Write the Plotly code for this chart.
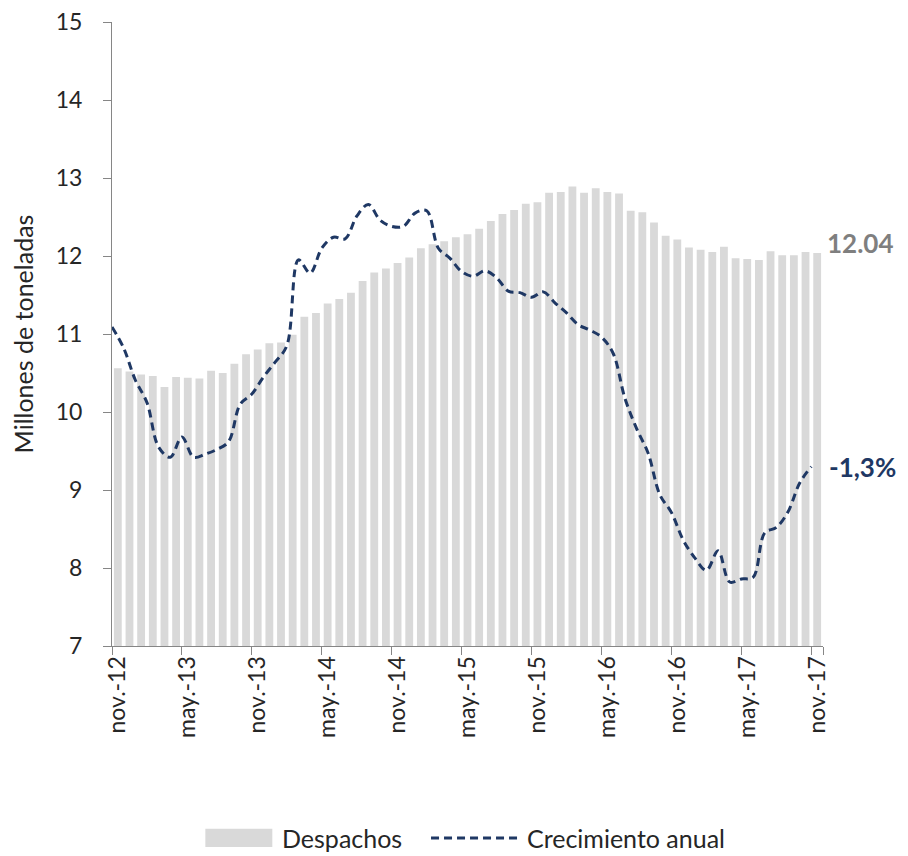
import plotly.graph_objects as go

# ---- data ----
month_abbr = ["ene.", "feb.", "mar.", "abr.", "may.", "jun.", "jul.", "ago.", "sep.", "oct.", "nov.", "dic."]
categories = []
m, y = 10, 12
for _ in range(61):
    categories.append(f"{month_abbr[m]}-{y:02d}")
    m += 1
    if m == 12:
        m, y = 0, y + 1

tick_labels = ["nov.-12", "may.-13", "nov.-13", "may.-14", "nov.-14", "may.-15",
               "nov.-15", "may.-16", "nov.-16", "may.-17", "nov.-17"]

despachos = [10.56, 10.52, 10.48, 10.46, 10.32, 10.45, 10.44, 10.43, 10.53, 10.50,
             10.62, 10.74, 10.80, 10.88, 10.89, 10.99, 11.22, 11.27, 11.39, 11.45,
             11.53, 11.68, 11.79, 11.84, 11.91, 11.98, 12.10, 12.15, 12.19, 12.24,
             12.28, 12.35, 12.45, 12.54, 12.59, 12.67, 12.69, 12.81, 12.82, 12.89,
             12.81, 12.87, 12.82, 12.80, 12.58, 12.56, 12.43, 12.26, 12.21, 12.11,
             12.08, 12.05, 12.12, 11.97, 11.96, 11.95, 12.06, 12.01, 12.01, 12.05,
             12.04]

crecimiento = [11.09, 10.82, 10.41, 10.12, 9.55, 9.42, 9.68, 9.42, 9.46, 9.52,
               9.62, 10.10, 10.23, 10.45, 10.64, 10.85, 11.95, 11.78, 12.10, 12.24,
               12.22, 12.51, 12.66, 12.46, 12.38, 12.38, 12.55, 12.58, 12.10, 11.97,
               11.80, 11.74, 11.81, 11.72, 11.55, 11.53, 11.47, 11.54, 11.40, 11.27,
               11.12, 11.05, 10.96, 10.75, 10.18, 9.79, 9.47, 8.94, 8.71, 8.36,
               8.13, 7.97, 8.22, 7.82, 7.86, 7.88, 8.45, 8.52, 8.72, 9.09,
               9.30]
crecimiento_ultimo = "-1,3%"

FONT = "Lato"
BAR_COLOR = "#D9D9D9"
LINE_COLOR = "#1F3864"
AXIS_COLOR = "#868686"
TEXT_COLOR = "#262626"

fig = go.Figure()
fig.add_trace(go.Bar(x=categories, y=despachos, marker_color=BAR_COLOR,
                     marker_line_width=0, name="Despachos", showlegend=False))
fig.add_trace(go.Scatter(x=list(range(len(crecimiento))), y=crecimiento, xaxis="x2",
                         mode="lines", line=dict(color=LINE_COLOR, width=3, dash="8px,5px",
                                                 shape="spline", smoothing=1),
                         name="Crecimiento anual", showlegend=False))

fig.add_annotation(x=categories[-1], y=despachos[-1], xref="x", yref="y",
                   text=f"<b>{despachos[-1]:.2f}</b>", showarrow=False,
                   xanchor="left", yanchor="middle", xshift=8, yshift=10,
                   font=dict(family=FONT, size=26, color="#7F7F7F"))
fig.add_annotation(x=len(crecimiento) - 1, y=crecimiento[-1], xref="x2", yref="y",
                   text=f"<b>{crecimiento_ultimo}</b>", showarrow=False,
                   xanchor="left", yanchor="middle", xshift=16, yshift=0,
                   font=dict(family=FONT, size=26, color=LINE_COLOR))

# custom legend
fig.add_shape(type="rect", xref="paper", yref="paper", x0=0.1313, x1=0.2255,
              y0=-0.322, y1=-0.293, fillcolor=BAR_COLOR, line_width=0)
fig.add_annotation(xref="paper", yref="paper", x=0.2367, y=-0.3077, text="Despachos",
                   showarrow=False, xanchor="left", yanchor="middle",
                   font=dict(family=FONT, size=25, color=TEXT_COLOR))
fig.add_shape(type="line", xref="paper", yref="paper", x0=0.4487, x1=0.5738,
              y0=-0.3077, y1=-0.3077, line=dict(color=LINE_COLOR, width=3, dash="8px,5px"))
fig.add_annotation(xref="paper", yref="paper", x=0.5808, y=-0.3077, text="Crecimiento anual",
                   showarrow=False, xanchor="left", yanchor="middle",
                   font=dict(family=FONT, size=25, color=TEXT_COLOR))

# page body adds an 8px offset, so the figure is sized 8px smaller on each side
fig.update_layout(
    width=900, height=848,
    margin=dict(l=104, r=85, t=14, b=210, autoexpand=False),
    paper_bgcolor="white", plot_bgcolor="white",
    bargap=0.33,
    showlegend=False,
    font=dict(family=FONT, size=22, color=TEXT_COLOR),
    xaxis=dict(type="category", categoryorder="array", categoryarray=categories,
               tickmode="array", tickvals=tick_labels, ticktext=tick_labels,
               tickson="boundaries", tickangle=-90, ticks="outside", ticklen=8,
               tickcolor=AXIS_COLOR, showline=True, linecolor=AXIS_COLOR, linewidth=1,
               showgrid=False, zeroline=False, automargin=False,
               tickfont=dict(family=FONT, size=23, color=TEXT_COLOR),
               range=[-0.5, len(categories) - 0.5]),
    xaxis2=dict(overlaying="x", range=[0, len(categories)], visible=False),
    yaxis=dict(range=[7, 15], dtick=1, ticks="outside", ticklen=8, tickcolor=AXIS_COLOR,
               showline=True, linecolor=AXIS_COLOR, linewidth=1, showgrid=False,
               zeroline=False, automargin=False, ticklabelstandoff=16,
               ticklabeloverflow="allow",
               tickfont=dict(family=FONT, size=23, color=TEXT_COLOR),
               title=dict(text="Millones de toneladas",
                          font=dict(family=FONT, size=25, color=TEXT_COLOR),
                          standoff=20)),
)

fig.write_html("out.html")
